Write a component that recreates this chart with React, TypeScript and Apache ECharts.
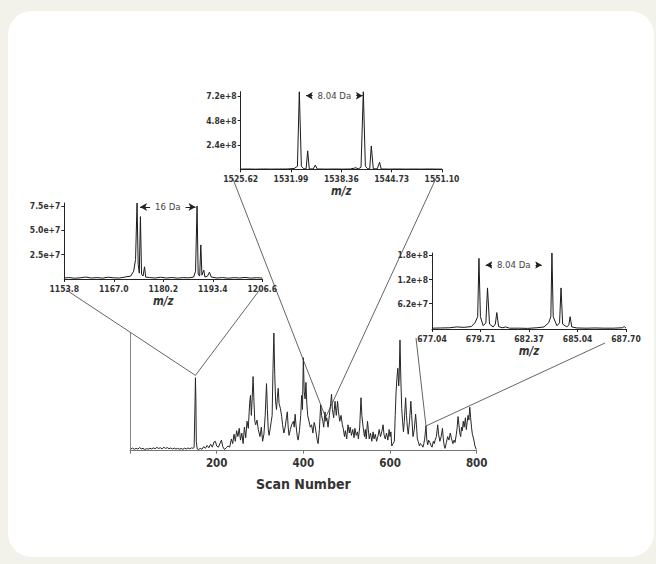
import React, { useEffect, useRef } from "react";
import * as echarts from "echarts";

const FONT = "'DejaVu Sans Condensed', 'Liberation Sans Narrow', 'Open Sans', sans-serif";

// ---- main chromatogram (scan number, relative intensity %) ----
const scanTicks = [200, 400, 600, 800];
const chromatogram: [number, number][] = [
  [2, 1.5], [6, 2.2], [10, 1.2], [14, 2.0], [18, 1.4], [22, 2.6], [26, 1.6], [30, 2.0], [34, 1.0], [38, 1.8],
  [42, 1.3], [46, 2.1], [50, 1.5], [54, 2.4], [58, 1.7], [62, 2.8], [66, 1.9], [70, 2.5], [74, 1.6], [78, 2.9],
  [82, 2.0], [86, 2.6], [90, 1.7], [94, 2.3], [98, 1.5], [102, 2.2], [106, 1.4], [110, 2.0], [114, 1.3], [118, 1.9],
  [122, 1.2], [126, 2.1], [130, 1.5], [134, 2.3], [138, 1.6], [142, 2.4], [146, 2.0], [148, 3.0], [150, 40], [151, 62],
  [152, 45], [153, 8], [155, 1.5], [158, 1.0], [162, 2.0], [166, 1.2], [170, 3.5], [174, 2.0], [178, 4.5], [182, 2.5],
  [186, 5.5], [190, 3.0], [194, 7.5], [197, 8.0], [200, 4.0], [204, 3.0], [208, 6.5], [211, 9.0], [214, 3.5], [218, 1.0],
  [222, 2.5], [226, 4.0], [230, 3.0], [234, 10], [237, 6], [240, 14], [243, 8], [246, 17], [249, 12], [252, 19],
  [255, 9], [258, 15], [261, 6], [264, 20], [267, 11], [270, 25], [273, 19], [276, 40], [278, 47], [280, 30],
  [282, 45], [284, 63], [286, 42], [288, 25], [290, 22], [293, 26], [296, 18], [300, 12], [303, 20], [306, 8],
  [309, 14], [312, 30], [315, 57], [317, 35], [319, 18], [321, 13], [324, 20], [326, 25], [328, 30], [330, 70],
  [332, 100], [334, 65], [336, 42], [338, 35], [340, 45], [342, 53], [344, 40], [347, 36], [350, 29], [352, 22],
  [355, 15], [358, 20], [361, 28], [363, 33], [365, 20], [367, 13], [370, 18], [373, 22], [377, 25], [379, 20],
  [381, 31], [383, 22], [386, 12], [388, 9], [391, 17], [394, 30], [396, 47], [398, 35], [400, 79], [402, 50],
  [404, 44], [406, 58], [408, 40], [410, 30], [413, 25], [416, 20], [419, 22], [422, 15], [425, 24], [427, 21],
  [430, 14], [432, 9], [434, 6], [437, 18], [440, 39], [442, 30], [445, 25], [447, 20], [450, 33], [452, 25],
  [454, 28], [457, 20], [460, 30], [463, 40], [465, 48], [467, 35], [470, 28], [473, 42], [476, 30], [479, 42],
  [481, 33], [484, 25], [487, 30], [490, 22], [492, 19], [495, 12], [497, 17], [500, 10], [503, 22], [506, 15],
  [508, 20], [511, 13], [514, 18], [517, 11], [519, 19], [522, 13], [525, 16], [527, 10], [530, 20], [533, 45],
  [535, 30], [538, 20], [541, 12], [543, 18], [545, 10], [548, 25], [550, 18], [552, 10], [555, 15], [558, 8],
  [561, 16], [563, 10], [566, 14], [569, 8], [572, 12], [575, 18], [578, 12], [581, 16], [584, 22], [586, 14],
  [589, 10], [592, 15], [595, 9], [598, 18], [600, 12], [602, 16], [604, 4], [607, 6], [610, 8], [612, 30],
  [614, 50], [616, 62], [618, 70], [620, 55], [621, 61], [623, 94], [625, 60], [627, 36], [629, 25], [631, 16],
  [633, 25], [636, 45], [638, 30], [640, 20], [642, 14], [645, 25], [648, 42], [650, 30], [653, 12], [656, 18],
  [659, 31], [661, 22], [663, 10], [665, 8], [668, 4], [670, 6], [673, 5], [676, 3], [678, 6], [680, 10],
  [683, 21], [685, 9], [687, 5], [689, 9], [692, 7], [695, 4], [697, 3], [700, 8], [702, 6], [704, 9],
  [707, 12], [710, 22], [712, 14], [715, 8], [718, 12], [721, 19], [723, 10], [725, 4], [727, 2], [730, 7],
  [733, 12], [736, 9], [739, 15], [742, 10], [745, 6], [748, 9], [750, 7], [753, 14], [755, 20], [757, 29],
  [759, 22], [761, 15], [763, 12], [765, 20], [767, 17], [769, 25], [771, 20], [774, 28], [776, 18], [778, 24],
  [780, 30], [782, 26], [784, 37], [786, 28], [788, 20], [790, 14], [793, 10], [796, 4], [799, 1],
];

// ---- left inset spectrum ----
const leftMzTicks = [1153.8, 1167.0, 1180.2, 1193.4, 1206.6];
const leftIntTicks = [2.5e7, 5.0e7, 7.5e7];
const leftSpectrum: [number, number][] = [
  [1153.8, 0.1e7], [1155, 0.15e7], [1156.5, 0.08e7], [1158, 0.12e7], [1159.5, 0.2e7], [1161, 0.1e7], [1162.5, 0.14e7],
  [1164, 0.09e7], [1165.5, 0.18e7], [1167, 0.12e7], [1168.5, 0.1e7], [1170, 0.2e7], [1171.5, 0.3e7], [1172.3, 0.8e7],
  [1172.8, 2.0e7], [1173.2, 7.8e7], [1173.5, 1.5e7], [1173.8, 0.6e7], [1174.1, 6.4e7], [1174.4, 0.5e7], [1174.8, 0.3e7],
  [1175.2, 1.25e7], [1175.5, 0.2e7], [1176.5, 0.15e7], [1178, 0.1e7], [1179.5, 0.18e7], [1181, 0.1e7], [1182.5, 0.15e7],
  [1184, 0.09e7], [1185.5, 0.14e7], [1187, 0.12e7], [1188.3, 0.2e7], [1188.8, 0.8e7], [1189.2, 7.5e7], [1189.5, 0.5e7],
  [1189.9, 0.3e7], [1190.2, 3.5e7], [1190.5, 0.4e7], [1191.0, 0.9e7], [1191.3, 0.2e7], [1192.0, 0.3e7], [1192.5, 0.7e7],
  [1193.0, 0.2e7], [1194.5, 0.1e7], [1196, 0.15e7], [1197.5, 0.08e7], [1199, 0.14e7], [1200.5, 0.1e7], [1202, 0.16e7],
  [1203.5, 0.09e7], [1205, 0.13e7], [1206.6, 0.1e7],
];

// ---- top inset spectrum ----
const topMzTicks = [1525.62, 1531.99, 1538.36, 1544.73, 1551.10];
const topIntTicks = [2.4e8, 4.8e8, 7.2e8];
const topSpectrum: [number, number][] = [
  [1525.62, 0.02e8], [1526.5, 0.03e8], [1527.5, 0.015e8], [1528.5, 0.03e8], [1529.5, 0.02e8], [1530.5, 0.025e8],
  [1531.5, 0.03e8], [1532.4, 0.08e8], [1532.8, 0.3e8], [1533.04, 7.65e8], [1533.3, 0.3e8], [1533.6, 0.05e8],
  [1533.9, 0.05e8], [1534.1, 1.82e8], [1534.3, 0.04e8], [1534.8, 0.03e8], [1535.07, 0.42e8], [1535.3, 0.03e8],
  [1536.5, 0.02e8], [1537.5, 0.03e8], [1538.5, 0.02e8], [1539.5, 0.03e8], [1540.2, 0.15e8], [1540.5, 0.04e8],
  [1540.85, 0.2e8], [1541.14, 7.65e8], [1541.4, 0.3e8], [1541.7, 0.05e8], [1541.95, 0.05e8], [1542.15, 2.3e8],
  [1542.4, 0.05e8], [1542.9, 0.04e8], [1543.2, 0.7e8], [1543.4, 0.03e8], [1544.5, 0.02e8], [1545.5, 0.03e8],
  [1546.5, 0.02e8], [1547.5, 0.025e8], [1548.5, 0.02e8], [1549.5, 0.03e8], [1550.5, 0.02e8], [1551.1, 0.02e8],
];

// ---- right inset spectrum ----
const rightMzTicks = [677.04, 679.71, 682.37, 685.04, 687.70];
const rightIntTicks = [6.2e7, 1.2e8, 1.8e8];
const rightSpectrum: [number, number][] = [
  [677.04, 0.02e8], [677.5, 0.025e8], [678.0, 0.03e8], [678.4, 0.05e8], [678.8, 0.04e8], [679.2, 0.06e8],
  [679.4, 0.15e8], [679.55, 0.3e8], [679.62, 1.72e8], [679.7, 0.3e8], [679.85, 0.08e8], [680.0, 0.15e8],
  [680.09, 1.0e8], [680.2, 0.12e8], [680.4, 0.05e8], [680.52, 0.12e8], [680.6, 0.4e8], [680.7, 0.06e8],
  [680.9, 0.03e8], [681.09, 0.05e8], [681.3, 0.02e8], [681.8, 0.02e8], [682.3, 0.015e8], [682.8, 0.03e8],
  [683.2, 0.05e8], [683.45, 0.15e8], [683.57, 0.3e8], [683.63, 1.85e8], [683.7, 0.3e8], [683.9, 0.08e8],
  [684.05, 0.15e8], [684.13, 1.0e8], [684.22, 0.12e8], [684.45, 0.05e8], [684.56, 0.1e8], [684.63, 0.3e8],
  [684.72, 0.05e8], [685.0, 0.025e8], [685.5, 0.02e8], [686.0, 0.025e8], [686.5, 0.02e8], [687.0, 0.02e8],
  [687.5, 0.03e8], [687.6, 0.06e8], [687.7, 0.02e8],
];

// mass-difference annotations
const leftDelta = { label: "16 Da", from: 1174.0, to: 1188.8, level: 7.39e7 };
const topDelta = { label: "8.04 Da", from: 1533.89, to: 1541.06, level: 7.26e8 };
const rightDelta = { label: "8.04 Da", from: 679.99, to: 683.07, level: 1.56e8 };

// zoom sources in the chromatogram [scan, intensity]
const leftSource: [number, number] = [151, 64];
const topSource: [number, number] = [451.5, 28.3];
const rightSource: [number, number] = [683, 21];

function insetAxes(grid: number, ticks: number[], intTicks: number[], max: number, decimals: number) {
  const x = {
    type: "value", gridIndex: grid, min: ticks[0], max: ticks[ticks.length - 1],
    axisLine: { show: true, lineStyle: { color: "#222", width: 1 } },
    axisTick: { show: true, customValues: ticks, length: 3, lineStyle: { color: "#222" } },
    axisLabel: { customValues: ticks, formatter: (v: number) => v.toFixed(decimals), fontSize: 8.5, fontWeight: "bold", color: "#333", margin: 5, fontFamily: FONT },
    splitLine: { show: false },
    name: "m/z", nameLocation: "middle", nameGap: 16,
    nameTextStyle: { fontStyle: "italic", fontWeight: "bold", fontSize: 11.5, color: "#333", fontFamily: FONT },
  };
  const y = {
    type: "value", gridIndex: grid, min: 0, max,
    axisLine: { show: true, lineStyle: { color: "#222", width: 1 } },
    axisTick: { show: true, customValues: intTicks, length: 3, lineStyle: { color: "#222" } },
    axisLabel: { customValues: intTicks, formatter: (v: number) => v.toExponential(1), fontSize: 8.5, fontWeight: "bold", color: "#333", margin: 4, fontFamily: FONT },
    splitLine: { show: false },
  };
  return { x, y };
}

function spectrumSeries(idx: number, data: [number, number][], delta: { label: string; from: number; to: number; level: number }) {
  return {
    type: "line", xAxisIndex: idx, yAxisIndex: idx, data, showSymbol: false, silent: true,
    lineStyle: { color: "#1a1a1a", width: 1 },
    markLine: {
      silent: true, symbol: ["arrow", "arrow"], symbolSize: [6, 7],
      lineStyle: { color: "#222", width: 1, type: "solid" },
      label: {
        show: true, position: "middle", formatter: delta.label, distance: 0, offset: [0, 5],
        backgroundColor: "#fff", padding: [0, 5], fontSize: 9.5, color: "#444", fontFamily: FONT,
      },
      data: [[{ coord: [delta.from, delta.level] }, { coord: [delta.to, delta.level] }]],
    },
  };
}

export default function App() {
  const ref = useRef<HTMLDivElement>(null);
  useEffect(() => {
    if (!ref.current) return;
    const chart = echarts.init(ref.current, undefined, { renderer: "svg" });
    const L = insetAxes(1, leftMzTicks, leftIntTicks, 7.8e7, 1);
    const T = insetAxes(2, topMzTicks, topIntTicks, 7.65e8, 2);
    const R = insetAxes(3, rightMzTicks, rightIntTicks, 1.85e8, 2);
    chart.setOption({
      animation: false,
      backgroundColor: "#f2f1ea",
      textStyle: { fontFamily: FONT },
      grid: [
        { left: 130, top: 333, width: 346.7, height: 117.7 },
        { left: 64.3, top: 203, width: 198, height: 76 },
        { left: 240.7, top: 91.7, width: 201.3, height: 77.6 },
        { left: 432, top: 253, width: 194, height: 76 },
      ],
      xAxis: [
        {
          type: "value", gridIndex: 0, min: 0, max: 800, interval: 200,
          axisLine: { show: true, lineStyle: { color: "#777", width: 1 } },
          axisTick: { show: true, length: 3, lineStyle: { color: "#777" } },
          axisLabel: { formatter: (v: number) => (scanTicks.includes(v) ? String(v) : ""), fontSize: 11.5, fontWeight: "bold", color: "#333", margin: 6, fontFamily: FONT },
          splitLine: { show: false },
          name: "Scan Number", nameLocation: "middle", nameGap: 26,
          nameTextStyle: { fontSize: 14, fontWeight: "bold", color: "#333", fontFamily: FONT },
        },
        L.x, T.x, R.x,
      ],
      yAxis: [
        {
          type: "value", gridIndex: 0, min: 0, max: 100,
          axisLine: { show: true, lineStyle: { color: "#888", width: 1 } },
          axisTick: { show: false }, axisLabel: { show: false }, splitLine: { show: false },
        },
        L.y, T.y, R.y,
      ],
      series: [
        {
          type: "line", xAxisIndex: 0, yAxisIndex: 0, data: chromatogram, showSymbol: false, silent: true,
          lineStyle: { color: "#262626", width: 1 },
        },
        spectrumSeries(1, leftSpectrum, leftDelta),
        spectrumSeries(2, topSpectrum, topDelta),
        spectrumSeries(3, rightSpectrum, rightDelta),
      ],
    });

    const px = (g: number, pt: [number, number]) => chart.convertToPixel({ gridIndex: g } as any, pt) as unknown as number[];
    const off = (p: number[], dx: number, dy: number) => [p[0] + dx, p[1] + dy];
    const lines: number[][][] = [
      [off(px(1, [leftMzTicks[0], 0]), 2, 11), px(0, leftSource), off(px(1, [leftMzTicks[4], 0]), -2, 10)],
      [off(px(2, [topMzTicks[0], 0]), -8, 9), px(0, topSource), off(px(2, [topMzTicks[4], 0]), -6, 9)],
      [off(px(3, [rightMzTicks[0], 0]), -16, 9), px(0, rightSource), off(px(3, [rightMzTicks[4], 0]), -21, 14)],
    ];
    chart.setOption({
      graphic: [
        { type: "rect", id: "card", z: -100, silent: true, shape: { x: 8, y: 11, width: 646, height: 546, r: 24 }, style: { fill: "#ffffff" } },
        ...lines.map((pts, i) => ({
          type: "polyline", id: "zoom" + i, z: 100, silent: true,
          shape: { points: pts },
          style: { stroke: "#3c3c3c", lineWidth: 0.8, fill: "none" },
        })),
      ],
    });
    return () => chart.dispose();
  }, []);
  return <div ref={ref} style={{ position: "fixed", left: 0, top: 0, width: 656, height: 564 }} />;
}
